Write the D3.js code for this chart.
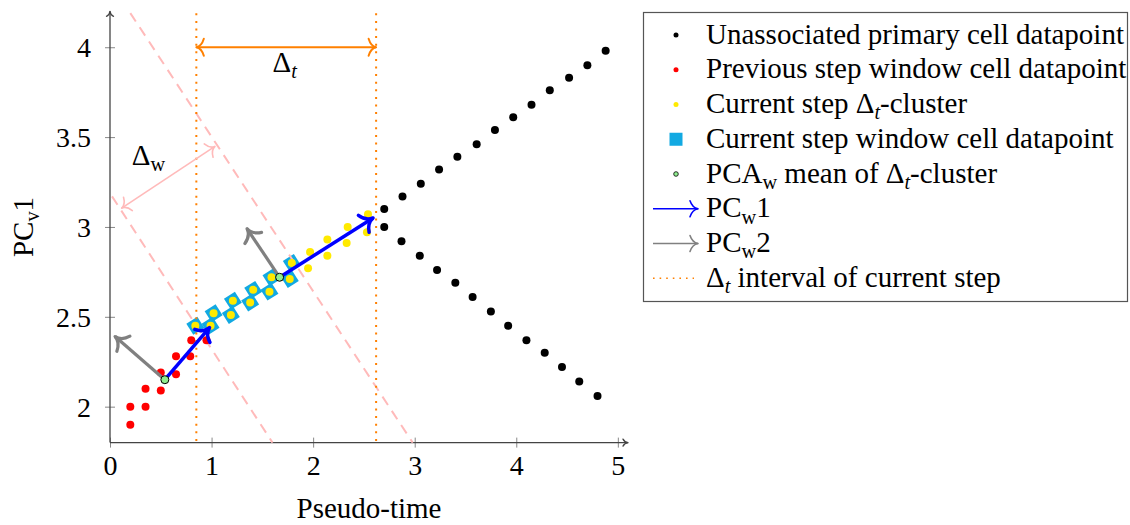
<!DOCTYPE html>
<html>
<head>
<meta charset="utf-8">
<script src="https://cdn.jsdelivr.net/npm/d3@7"></script>
<style>
  body { margin: 0; background: #fff; }
</style>
</head>
<body>
<script>
// data
var unassociated = [
  [2.70,3.10],[2.88,3.17],[3.06,3.24],[3.24,3.32],[3.42,3.39],[3.61,3.46],[3.79,3.54],
  [3.97,3.61],[4.15,3.68],[4.33,3.76],[4.52,3.83],[4.70,3.90],[4.88,3.98],
  [2.70,3.00],[2.87,2.92],[3.05,2.84],[3.22,2.76],[3.40,2.69],[3.57,2.61],[3.75,2.53],
  [3.92,2.45],[4.10,2.37],[4.28,2.30],[4.45,2.22],[4.62,2.14],[4.80,2.06]
];
var previousWindow = [
  [0.20,1.90],[0.20,2.00],[0.35,2.00],[0.35,2.10],[0.50,2.09],[0.50,2.19],
  [0.65,2.18],[0.65,2.28],[0.79,2.28],[0.80,2.37],[0.95,2.37]
];
var currentWindow = [
  [0.84,2.45],[0.99,2.45],[1.02,2.52],[1.19,2.51],[1.21,2.59],[1.38,2.58],
  [1.41,2.65],[1.57,2.64],[1.59,2.72],[1.77,2.71],[1.79,2.80]
];
var deltaCluster = [
  [0.84,2.45],[0.99,2.45],[1.02,2.52],[1.19,2.51],[1.21,2.59],[1.38,2.58],
  [1.41,2.65],[1.57,2.64],[1.59,2.72],[1.77,2.71],[1.79,2.80],[1.95,2.77],
  [1.97,2.86],[2.14,2.84],[2.14,2.93],[2.33,2.91],[2.34,3.00],[2.53,2.97],[2.54,3.07]
];
var pcaMeans = [[0.54,2.15],[1.67,2.72]];
var pc1Tips = [[0.98,2.44],[2.59,3.05]];
var pc2Tips = [[0.05,2.39],[1.35,2.99]];
var deltaT = [0.85, 2.62];
var deltaTArrowY = 4.0;
var windowBounds = [[[0.20,4.19],[2.98,1.8]], [[0.02,3.17],[1.60,1.8]]];
var deltaWArrow = [[0.115,3.105],[1.033,3.448]];
var deltaTLabel = [1.72, 3.864];
var deltaWLabel = [0.214, 3.347];
var xTicks = [0,1,2,3,4,5];
var yTicks = [2,2.5,3,3.5,4];
var legendLabels = [
  [{t:"Unassociated primary cell datapoint"}],
  [{t:"Previous step window cell datapoint"}],
  [{t:"Current step Δ"},{t:"t",sub:1,it:1},{t:"-cluster"}],
  [{t:"Current step window cell datapoint"}],
  [{t:"PCA"},{t:"w",sub:1},{t:" mean of Δ"},{t:"t",sub:1,it:1},{t:"-cluster"}],
  [{t:"PC"},{t:"w",sub:1},{t:"1"}],
  [{t:"PC"},{t:"w",sub:1},{t:"2"}],
  [{t:"Δ"},{t:"t",sub:1,it:1},{t:" interval of current step"}]
];

var orange = "#ff8000", pink = "#ffbaba", cyan = "#12a9e2", yellow = "#ffea00",
    blue = "#0000ff", gray = "#808080", green = "#90ee90";
var serif = "Liberation Serif";

var svg = d3.select("body").append("svg").attr("width",1130).attr("height",525)
  .style("font-family", serif);

var x = d3.scaleLinear().domain([0,5.1]).range([110,628]);
var y = d3.scaleLinear().domain([1.8,4.2]).range([442.6,11.3]);

// rich text with subscripts
function richText(sel, parts, size) {
  sel.style("font-family", serif).attr("fill","#000");
  var sub = 0;
  parts.forEach(function(p){
    var ts = sel.append("tspan").text(p.t);
    if (p.sub) { ts.attr("font-size", size*0.7).attr("dy", sub ? 0 : size*0.22); sub = 1; }
    else { ts.attr("dy", sub ? -size*0.22 : 0); sub = 0; }
    if (p.it) ts.attr("font-style","italic");
  });
}

// open tikz-like arrow head at (px,py) pointing along angle a
function head(g, px, py, a, color, w, L, W) {
  g.append("path")
    .attr("d", "M"+(-L)+","+(-W)+" Q"+(-0.7*L)+","+(-0.12*W)+" 0,0 Q"+(-0.7*L)+","+(0.12*W)+" "+(-L)+","+W)
    .attr("transform","translate("+px+","+py+") rotate("+(a*180/Math.PI)+")")
    .attr("fill","none").attr("stroke",color).attr("stroke-width",w)
    .attr("stroke-linecap","round").attr("stroke-linejoin","round");
}
function arrow(g, p1, p2, color, w, L, W, both) {
  var a = Math.atan2(p2[1]-p1[1], p2[0]-p1[0]);
  g.append("line").attr("x1",p1[0]).attr("y1",p1[1]).attr("x2",p2[0]).attr("y2",p2[1])
    .attr("stroke",color).attr("stroke-width",w);
  head(g, p2[0], p2[1], a, color, w, L, W);
  if (both) head(g, p1[0], p1[1], a+Math.PI, color, w, L, W);
}

// axes
var ax = svg.append("g");
var xAxis = ax.append("g").attr("transform","translate(0,"+y(1.8)+")")
  .call(d3.axisBottom(x).tickValues(xTicks).tickFormat(d3.format("d")).tickSize(5).tickPadding(12));
var yAxis = ax.append("g").attr("transform","translate("+x(0)+",0)")
  .call(d3.axisLeft(y).tickValues(yTicks).tickFormat(function(d){return d;}).tickSize(5).tickPadding(14));
[xAxis,yAxis].forEach(function(a){
  a.attr("font-family", serif);
  a.select(".domain").remove();
  a.selectAll(".tick line").attr("stroke","#888").attr("stroke-width",1);
  a.selectAll(".tick text").attr("font-size",28).style("font-family",serif).attr("fill","#000");
});
xAxis.selectAll(".tick line").attr("y1",-5).attr("y2",5);
xAxis.selectAll(".tick text").attr("dy","0.55em");
yAxis.selectAll(".tick line").attr("x1",-5).attr("x2",5);
yAxis.selectAll(".tick text").attr("dy","0.34em");
arrow(ax, [x(0), y(1.8)], [x(5.1), y(1.8)], "#444", 1.3, 5, 3.5);
arrow(ax, [x(0), y(1.8)], [x(0), y(4.2)], "#444", 1.3, 5, 3.5);

svg.append("text").attr("x",(x(0)+x(5.1))/2).attr("y",518).attr("text-anchor","middle")
  .style("font-family",serif).attr("font-size",29).text("Pseudo-time");
var yl = svg.append("text").attr("transform","translate(33,"+((y(1.8)+y(4.2))/2)+") rotate(-90)")
  .attr("text-anchor","middle").attr("font-size",29);
richText(yl, [{t:"PC"},{t:"v",sub:1},{t:"1"}], 29);

// window cell squares, rotated along PC1
var a1 = Math.atan2(y(pc1Tips[1][1])-y(pcaMeans[1][1]), x(pc1Tips[1][0])-x(pcaMeans[1][0]))*180/Math.PI;
svg.append("g").selectAll("rect").data(currentWindow).enter().append("rect")
  .attr("x",-6.5).attr("y",-6.5).attr("width",13).attr("height",13).attr("fill",cyan)
  .attr("transform",function(d){return "translate("+x(d[0])+","+y(d[1])+") rotate("+a1+")";});

// window borders and delta_t interval
var lines = svg.append("g");
windowBounds.forEach(function(b){
  lines.append("line").attr("x1",x(b[0][0])).attr("y1",y(b[0][1])).attr("x2",x(b[1][0])).attr("y2",y(b[1][1]))
    .attr("stroke",pink).attr("stroke-width",2).attr("stroke-dasharray","10,7");
});
deltaT.forEach(function(t){
  lines.append("line").attr("x1",x(t)).attr("x2",x(t)).attr("y1",y(4.2)+2).attr("y2",y(1.8))
    .attr("stroke",orange).attr("stroke-width",2).attr("stroke-dasharray","2,5.6");
});
arrow(lines, [x(deltaT[0]),y(deltaTArrowY)], [x(deltaT[1]),y(deltaTArrowY)], orange, 2, 7.5, 8.5, true);
arrow(lines, [x(deltaWArrow[0][0]),y(deltaWArrow[0][1])], [x(deltaWArrow[1][0]),y(deltaWArrow[1][1])], pink, 1.6, 7.5, 8, true);
var tl = svg.append("text").attr("x",x(deltaTLabel[0])).attr("y",y(deltaTLabel[1]))
  .attr("text-anchor","middle").attr("font-size",29);
richText(tl, [{t:"Δ"},{t:"t",sub:1,it:1}], 29);
var wl = svg.append("text").attr("x",x(deltaWLabel[0])).attr("y",y(deltaWLabel[1])).attr("font-size",29);
richText(wl, [{t:"Δ"},{t:"w",sub:1}], 29);

// datapoints
function dots(data, color) {
  svg.append("g").selectAll("circle").data(data).enter().append("circle")
    .attr("cx",function(d){return x(d[0]);}).attr("cy",function(d){return y(d[1]);})
    .attr("r",4).attr("fill",color);
}
dots(unassociated, "#000");
dots(previousWindow, "red");
dots(deltaCluster, yellow);

// principal components
var pcs = svg.append("g");
pcaMeans.forEach(function(m,i){
  var c = [x(m[0]),y(m[1])];
  arrow(pcs, c, [x(pc2Tips[i][0]),y(pc2Tips[i][1])], gray, 3.2, 11, 10);
  arrow(pcs, c, [x(pc1Tips[i][0]),y(pc1Tips[i][1])], blue, 3.5, 11, 10);
});
svg.append("g").selectAll("circle").data(pcaMeans).enter().append("circle")
  .attr("cx",function(d){return x(d[0]);}).attr("cy",function(d){return y(d[1]);})
  .attr("r",4).attr("fill",green).attr("stroke","#000").attr("stroke-width",1);

// legend
var lg = svg.append("g");
lg.append("rect").attr("x",643.5).attr("y",12.5).attr("width",484).attr("height",289)
  .attr("fill","#fff").attr("stroke","#555").attr("stroke-width",1.2);
legendLabels.forEach(function(parts,i){
  var by = 43.5 + i*34.75, my = by - 8.5;
  var t = lg.append("text").attr("x",706).attr("y",by).attr("font-size",29);
  richText(t, parts, 29);
  if (i==0) lg.append("circle").attr("cx",676).attr("cy",my).attr("r",2.5).attr("fill","#000");
  if (i==1) lg.append("circle").attr("cx",676).attr("cy",my).attr("r",2.5).attr("fill","red");
  if (i==2) lg.append("circle").attr("cx",676).attr("cy",my).attr("r",2.5).attr("fill",yellow);
  if (i==3) lg.append("rect").attr("x",669.5).attr("y",my-6.5).attr("width",13).attr("height",13).attr("fill",cyan);
  if (i==4) lg.append("circle").attr("cx",676).attr("cy",my).attr("r",2.3).attr("fill",green).attr("stroke","#000").attr("stroke-width",0.8);
  if (i==5) arrow(lg, [653,my], [698,my], blue, 1.6, 8, 8);
  if (i==6) arrow(lg, [653,my], [698,my], gray, 1.6, 8, 8);
  if (i==7) lg.append("line").attr("x1",653).attr("x2",694).attr("y1",my).attr("y2",my)
    .attr("stroke",orange).attr("stroke-width",1.6).attr("stroke-dasharray","1.6,5");
});
</script>
</body>
</html>
